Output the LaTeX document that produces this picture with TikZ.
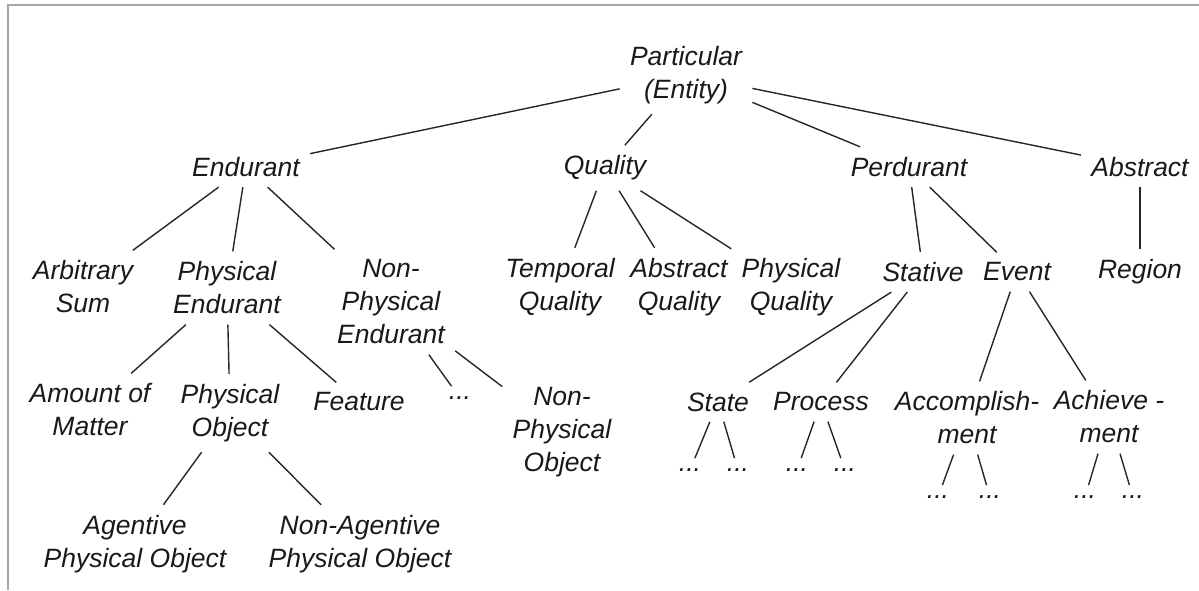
\documentclass[tikz,border=0pt]{standalone}
\usepackage{fontspec}
\setmainfont{Liberation Sans}
\begin{document}
\begin{tikzpicture}[x=0.5pt,y=-0.5pt,
        cat/.style={align=center,text=black!90,
            font=\fontsize{13.25}{16.5}\selectfont\itshape,
            inner xsep=5pt,inner ysep=5pt},
        link/.style={line width=0.7pt,black!85}]
\useasboundingbox (0,0) rectangle (1199,590);
\draw[gray!70,line width=1pt] (8,590) -- (8,5) -- (1199,5);

% top levels
\node[cat] (particular) at (686,75) {Particular\\(Entity)};
\node[cat] (endurant)   at (246,167) {Endurant};
\node[cat] (quality)    at (605,168) {Quality};
\node[cat] (perdurant)  at (909,167) {Perdurant};
\node[cat] (abstract)   at (1140,167) {Abstract};

% second row
\node[cat] (arbsum)   at (83,287)  {Arbitrary\\Sum};
\node[cat] (physend)  at (227,288) {Physical\\Endurant};
\node[cat] (nphysend) at (391,302) {Non-\\Physical\\Endurant};
\node[cat] (tempq)    at (560,287) {Temporal\\Quality};
\node[cat] (absq)     at (679,287) {Abstract\\Quality};
\node[cat] (physq)    at (791,287) {Physical\\Quality};
\node[cat] (stative)  at (923,272) {Stative};
\node[cat] (event)    at (1017,272) {Event};
\node[cat] (region)   at (1140,272) {Region};

% third row
\node[cat] (amount)   at (90,410)  {Amount of\\Matter};
\node[cat] (physobj)  at (230,413) {Physical\\Object};
\node[cat] (feature)  at (359,402) {Feature};
\node[cat] (npdots)   at (460,398) {...};
\node[cat] (nphysobj) at (562,432) {Non-\\Physical\\Object};
\node[cat] (state)    at (718,402) {State};
\node[cat] (process)  at (821,402) {Process};
\node[cat] (accomp)   at (967,418) {Accomplish-\\ment};
\node[cat] (achieve)  at (1109,417) {Achieve -\\ment};

% fourth row
\node[cat] (stA) at (690,470) {...};
\node[cat] (stB) at (738,470) {...};
\node[cat] (prA) at (797,470) {...};
\node[cat] (prB) at (845,470) {...};
\node[cat] (acA) at (938,497) {...};
\node[cat] (acB) at (990,497) {...};
\node[cat] (ahA) at (1085,497) {...};
\node[cat] (ahB) at (1133,497) {...};

% bottom row
\node[cat] (agent)  at (135,544) {Agentive\\Physical Object};
\node[cat] (nagent) at (360,544) {Non-Agentive\\Physical Object};

\foreach \a/\b in {particular/endurant,particular/quality,particular/perdurant,
        particular/abstract,endurant/arbsum,endurant/physend,endurant/nphysend,
        physend/amount,physend/physobj,physend/feature,nphysend/npdots,
        nphysend/nphysobj,physobj/agent,physobj/nagent,quality/tempq,
        quality/absq,quality/physq,perdurant/stative,perdurant/event,
        abstract/region,stative/state,stative/process,event/accomp,
        event/achieve,state/stA,state/stB,process/prA,process/prB,
        accomp/acA,accomp/acB,achieve/ahA,achieve/ahB}
    \draw[link] (\a) -- (\b);
\end{tikzpicture}
\end{document}
